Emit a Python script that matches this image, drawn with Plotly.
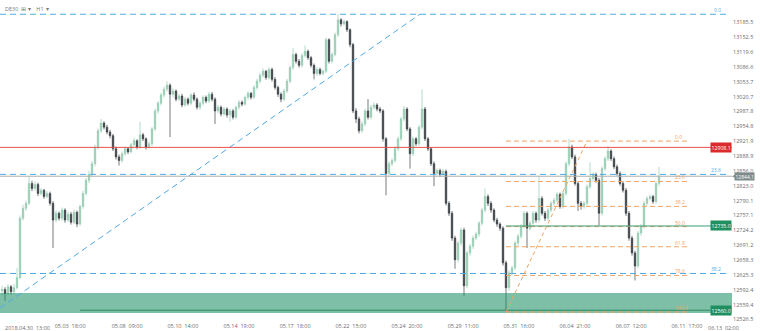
import plotly.graph_objects as go

# ---------------- data (DE30, H1) ----------------
opens = [12590,12593,12584,12599,12588,12597,12619,12751,12773,12784,
12828,12817,12826,12806,12813,12799,12806,12784,12747,12762,
12751,12769,12747,12760,12742,12764,12738,12777,12806,12835,
12848,12872,12909,12945,12962,12953,12942,12934,12905,12887,
12879,12894,12905,12898,12914,12923,12909,12936,12927,12909,
12916,12949,12989,13006,13024,13037,13046,13026,13033,13015,
13022,13002,13015,13006,13024,13015,12997,13006,13019,13011,
13026,13015,12989,12997,12982,12993,12980,12989,12975,12997,
13008,13004,13019,13028,13019,13041,13055,13068,13077,13063,
13081,13059,13041,13026,13015,13033,13055,13085,13114,13099,
13090,13112,13121,13107,13090,13072,13081,13072,13077,13147,
13099,13114,13158,13191,13182,13187,13169,13136,12989,12971,
12945,12960,12989,12975,12997,13002,12993,12989,12927,12850,
12872,12879,12905,12927,12971,12993,12949,12894,12927,12916,
12953,12993,12927,12905,12872,12850,12857,12848,12855,12784,
12762,12707,12659,12696,12725,12601,12674,12689,12707,12716,
12740,12769,12799,12784,12769,12747,12738,12729,12652,12597,
12630,12641,12696,12711,12733,12762,12729,12740,12762,12747,
12795,12762,12751,12769,12784,12791,12804,12777,12806,12872,
12909,12887,12828,12784,12777,12784,12821,12839,12848,12835,
12762,12861,12883,12900,12883,12865,12850,12828,12813,12762,
12707,12674,12645,12718,12733,12784,12795,12799,12788,12828]

highs = [12601,12598,12605,12603,12605,12641,12757,12781,12790,12843,
12834,12832,12830,12818,12816,12811,12810,12789,12768,12766,
12775,12773,12766,12765,12770,12768,12781,12812,12840,12856,
12878,12914,12950,12971,12966,12958,12947,12938,12910,12892,
12899,12910,12908,12918,12929,12926,12965,12940,12930,12921,
12953,12994,13011,13029,13043,13055,13050,13039,13037,13027,
13027,13020,13019,13029,13030,13019,13011,13024,13023,13031,
13031,13019,13002,13001,12998,12997,12994,12993,13001,13013,
13012,13023,13033,13031,13046,13060,13073,13083,13080,13086,
13085,13064,13045,13030,13038,13060,13090,13129,13118,13104,
13117,13134,13125,13111,13094,13086,13085,13081,13152,13150,
13119,13163,13204,13195,13192,13190,13172,13140,12995,12976,
12966,12994,13015,13002,13008,13006,12998,12993,12931,12877,
12884,12910,12932,12976,13000,12997,12953,12932,12931,12958,
13037,12998,12931,12909,12877,12862,12861,12860,12859,12789,
12767,12712,12701,12730,12730,12679,12694,12712,12721,12745,
12774,12817,12804,12789,12773,12752,12742,12733,12657,12636,
12646,12701,12716,12738,12767,12766,12745,12767,12766,12843,
12800,12767,12774,12789,12796,12809,12808,12811,12877,12927,
12914,12892,12833,12789,12789,12826,12875,12853,12852,12840,
12866,12888,12911,12904,12888,12870,12855,12833,12818,12767,
12712,12679,12723,12738,12789,12800,12804,12803,12833,12865]

lows = [12580,12568,12580,12582,12583,12593,12616,12746,12767,12780,
12811,12812,12800,12802,12794,12795,12779,12685,12742,12746,
12745,12741,12743,12737,12738,12731,12734,12772,12801,12829,
12843,12866,12903,12940,12948,12937,12928,12900,12881,12868,
12874,12889,12893,12895,12910,12904,12905,12922,12903,12905,
12911,12944,12983,13001,13019,13032,12931,13020,13010,13011,
12997,12998,13001,13002,13010,12992,12991,13001,13006,13006,
13010,12960,12984,12977,12978,12974,12965,12970,12971,12992,
12999,13000,13014,13014,13015,13036,13050,13063,13058,13058,
13054,13036,13020,13008,13011,13029,13050,13080,13094,13085,
13085,13107,13102,13085,13059,13067,13068,13068,13073,13094,
13094,13110,13153,13176,13178,13164,13130,12984,12962,12939,
12940,12955,12970,12970,12992,12988,12984,12921,12802,12845,
12866,12874,12900,12922,12966,12944,12861,12889,12911,12911,
12948,12922,12900,12867,12822,12845,12843,12843,12779,12756,
12701,12639,12653,12690,12579,12596,12668,12683,12702,12710,
12735,12764,12778,12763,12742,12732,12723,12646,12546,12590,
12624,12636,12690,12706,12728,12685,12724,12735,12741,12742,
12757,12745,12746,12764,12779,12786,12772,12772,12801,12866,
12882,12823,12767,12770,12772,12779,12816,12834,12830,12735,
12757,12856,12878,12878,12860,12845,12823,12808,12756,12701,
12668,12613,12640,12712,12728,12779,12790,12783,12783,12822]

closes = [12593,12584,12599,12588,12597,12619,12751,12773,12784,12828,
12817,12826,12806,12813,12799,12806,12784,12747,12762,12751,
12769,12747,12760,12742,12764,12738,12777,12806,12835,12848,
12872,12909,12945,12962,12953,12942,12934,12905,12887,12879,
12894,12905,12898,12914,12923,12909,12936,12927,12909,12916,
12949,12989,13006,13024,13037,13046,13026,13033,13015,13022,
13002,13015,13006,13024,13015,12997,13006,13019,13011,13026,
13015,12989,12997,12982,12993,12980,12989,12975,12997,13008,
13004,13019,13028,13019,13041,13055,13068,13077,13063,13081,
13059,13041,13026,13015,13033,13055,13085,13114,13099,13090,
13112,13121,13107,13090,13072,13081,13072,13077,13147,13099,
13114,13158,13191,13182,13187,13169,13136,12989,12971,12945,
12960,12989,12975,12997,13002,12993,12989,12927,12850,12872,
12879,12905,12927,12971,12993,12949,12894,12927,12916,12953,
12993,12927,12905,12872,12850,12857,12848,12855,12784,12762,
12707,12659,12696,12725,12601,12674,12689,12707,12716,12740,
12769,12799,12784,12769,12747,12738,12729,12652,12597,12630,
12641,12696,12711,12733,12762,12729,12740,12762,12747,12795,
12762,12751,12769,12784,12791,12804,12777,12806,12872,12909,
12887,12828,12784,12777,12784,12821,12839,12848,12835,12762,
12861,12883,12900,12883,12865,12850,12828,12813,12762,12707,
12674,12645,12718,12733,12784,12795,12799,12788,12828,12844.1]

x_first_label = "2018.04.30  13:00"
x_tick_labels = ["05.03  18:00", "05.08  09:00", "05.10  14:00",
                 "05.14  19:00", "05.17  18:00", "05.22  15:00", "05.24  20:00",
                 "05.29  11:00", "05.31  16:00", "06.04  21:00", "06.07  12:00",
                 "06.11  17:00"]
x_tick_bars = [22.7, 41.7, 60.3, 79.0, 97.7, 116.3, 135.0, 153.7, 172.3, 191.0, 209.7, 228.3]
x_last_label = "06.13  02:00"

y_ticks = [13185.5, 13152.5, 13119.6, 13086.6, 13053.7, 13020.7, 12987.8, 12954.8,
           12921.9, 12888.9, 12856.0, 12823.0, 12790.1, 12757.1, 12724.2, 12691.2,
           12658.3, 12625.3, 12592.4, 12559.4, 12526.5]

red_level = 12908.1
last_price = 12844.1
green_level = 12733.8
zone_top, zone_bottom = 12585.0, 12541.0
zone_line = 12547.0

# blue fibonacci (drawn from an earlier swing)
blue_fib_hi, blue_fib_lo = 13203.3, 11698.5
blue_fib_levels = [0.0, 23.6, 38.2]
# orange fibonacci on the last swing
orange_fib_hi, orange_fib_lo = 12922.0, 12543.0
orange_fib_levels = [0.0, 23.6, 38.2, 50.0, 61.8, 78.6, 100.0]
orange_fib_start, orange_fib_peak, orange_fib_end = 168, 195, 229.3
# trend line
trend_start = (-0.67, 12552.0)
trend_end = (139.3, 13203.3)

# ---------------- figure ----------------
bars = list(range(len(closes)))
BLUE = "#4fa9e3"
ORANGE = "#f4a460"
GREEN_BOX = "#1f8f5f"
FONT = "Open Sans"
AX = "#6a6a6a"

fig = go.Figure()
fig.add_trace(go.Candlestick(
    x=bars, open=opens, high=highs, low=lows, close=closes,
    increasing=dict(line=dict(color="#96cbb2", width=0.7), fillcolor="#94cbb0"),
    decreasing=dict(line=dict(color="#3a3f44", width=0.7), fillcolor="#2f3438"),
    whiskerwidth=0, showlegend=False, hoverinfo="skip"))

shapes = []
annotations = []

# green zone
shapes.append(dict(type="rect", xref="paper", yref="y", x0=0, x1=1, y0=zone_bottom, y1=zone_top,
                   fillcolor="rgba(20,140,95,0.55)", line=dict(width=0), layer="above"))
shapes.append(dict(type="line", xref="x", yref="y", x0=26, x1=236, y0=zone_line, y1=zone_line,
                   line=dict(color="#2e8a63", width=1), layer="above"))

# blue fib lines
for lv in blue_fib_levels:
    p = blue_fib_hi - lv / 100 * (blue_fib_hi - blue_fib_lo)
    shapes.append(dict(type="line", xref="paper", yref="y", x0=0, x1=0.996, y0=p, y1=p,
                       line=dict(color=BLUE, width=1, dash="6px,4px")))
    annotations.append(dict(xref="paper", yref="y", x=723 / 732, y=p, text="%.1f" % lv,
                            showarrow=False, yshift=4, font=dict(size=5, color=BLUE, family=FONT)))

# blue trend line
shapes.append(dict(type="line", xref="x", yref="y", x0=trend_start[0], y0=trend_start[1],
                   x1=trend_end[0], y1=trend_end[1], line=dict(color=BLUE, width=1, dash="6px,4px")))

# orange fib
for lv in orange_fib_levels:
    p = orange_fib_hi - lv / 100 * (orange_fib_hi - orange_fib_lo)
    shapes.append(dict(type="line", xref="x", yref="y", x0=orange_fib_start, x1=orange_fib_end,
                       y0=p, y1=p, line=dict(color=ORANGE, width=1, dash="5px,3px")))
    annotations.append(dict(xref="x", yref="y", x=223.7, y=p, text="%.1f" % lv, xanchor="left",
                            showarrow=False, yshift=4, font=dict(size=5, color=ORANGE, family=FONT)))
shapes.append(dict(type="line", xref="x", yref="y", x0=orange_fib_start, y0=orange_fib_lo,
                   x1=orange_fib_peak, y1=orange_fib_hi, line=dict(color=ORANGE, width=1, dash="4px,3px")))

# red line
shapes.append(dict(type="line", xref="paper", yref="y", x0=0, x1=1, y0=red_level, y1=red_level,
                   line=dict(color="#e8504f", width=1)))
# current price line
shapes.append(dict(type="line", xref="paper", yref="y", x0=0, x1=1, y0=last_price, y1=last_price,
                   line=dict(color="#b0b0b0", width=1)))
# green line
shapes.append(dict(type="line", xref="x", yref="y", x0=168, x1=243.3, y0=green_level, y1=green_level,
                   line=dict(color="#3a9d74", width=1)))

def box(price, text, color, x=1.0, anchor="right", shift=0, size=5.2):
    annotations.append(dict(xref="paper", yref="y", x=x, y=price, text=text, xanchor=anchor,
                            showarrow=False, bgcolor=color, borderpad=0.5, xshift=shift,
                            font=dict(size=size, color="white", family=FONT)))

box(red_level, "12908.1", "#dc2b2b")
box(green_level, "12735.0", GREEN_BOX)
box(zone_line, "12560.0", GREEN_BOX)
box(last_price, "12844.1", "#7d8b8c", anchor="left", shift=2, size=5)
# small pointer of the price tag
shapes.append(dict(type="path", xref="paper", yref="y", layer="above",
                   path="M 1,%f L 1.004,%f L 1.004,%f Z" % (last_price, last_price + 3.2, last_price - 3.2),
                   fillcolor="#7d8b8c", line=dict(width=0)))

# header
annotations.append(dict(xref="paper", yref="paper", x=3 / 732, y=1, yshift=-3, xanchor="left", yanchor="top",
                        text="DE30  ⊞ ▾    H1  ▾", showarrow=False,
                        font=dict(size=5.5, color="#777", family=FONT)))
# first and last x labels
annotations.append(dict(xref="paper", yref="paper", x=3 / 732, y=0, xanchor="left", yanchor="top", yshift=-1,
                        text=x_first_label, showarrow=False, font=dict(size=5.5, color=AX, family=FONT)))
annotations.append(dict(xref="paper", yref="paper", x=741 / 732, y=0, yanchor="top", yshift=-1,
                        text=x_last_label, showarrow=False, font=dict(size=5.5, color=AX, family=FONT)))

fig.update_layout(
    width=760, height=331,
    margin=dict(l=0, r=28, t=0, b=10, autoexpand=False),
    paper_bgcolor="white", plot_bgcolor="white",
    shapes=shapes, annotations=annotations, showlegend=False,
    xaxis=dict(range=[-0.667, 243.333], rangeslider=dict(visible=False), showgrid=False,
               zeroline=False, tickvals=x_tick_bars, ticktext=x_tick_labels, ticks="",
               tickfont=dict(size=5.5, color=AX, family=FONT), showline=False, fixedrange=True),
    yaxis=dict(range=[12523.1, 13234.9], side="right", showgrid=False, zeroline=False,
               tickvals=y_ticks, ticktext=["%.1f" % v for v in y_ticks], ticks="",
               tickfont=dict(size=5.5, color=AX, family=FONT), showline=False, fixedrange=True),
)

fig.write_html("out.html", config={"displayModeBar": False})
